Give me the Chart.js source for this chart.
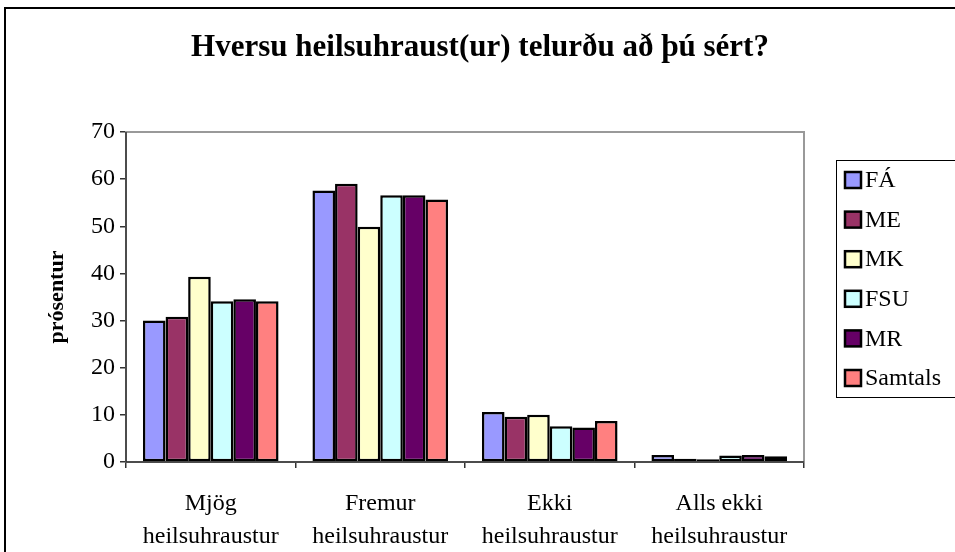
<!DOCTYPE html>
<html>
<head>
<meta charset="utf-8">
<script src="https://cdn.jsdelivr.net/npm/chart.js@4"></script>
<style>
  html, body { margin: 0; padding: 0; background: #fff; }
  #wrap { width: 955px; height: 552px; position: relative; }
</style>
</head>
<body>
<div id="wrap"><canvas id="healthChart" width="955" height="552"></canvas></div>
<script>
// gögn lesin af myndinni
const categories = [['Mjög', 'heilsuhraustur'], ['Fremur', 'heilsuhraustur'], ['Ekki', 'heilsuhraustur'], ['Alls ekki', 'heilsuhraustur']];
const seriesNames = ['FÁ', 'ME', 'MK', 'FSU', 'MR', 'Samtals'];
const valuesFA = [30.0, 57.6, 10.6, 1.5];
const valuesME = [30.8, 59.0, 9.6, 0.7];
const valuesMK = [39.3, 49.9, 10.0, 0.6];
const valuesFSU = [34.1, 56.6, 7.6, 1.4];
const valuesMR = [34.5, 56.6, 7.3, 1.5];
const valuesSamtals = [34.1, 55.7, 8.7, 1.2];
const yTicks = [0, 10, 20, 30, 40, 50, 60, 70];

const seriesValues = [valuesFA, valuesME, valuesMK, valuesFSU, valuesMR, valuesSamtals];
const seriesColors = ['#9999FF', '#993366', '#FFFFCC', '#CCFFFF', '#660066', '#FF8080'];
const serif = "'Liberation Serif', 'Times New Roman', serif";

// ramminn, titillinn og skýringin teiknuð sér
const framePlugin = {
  id: 'framePlugin',
  beforeDraw(chart) {
    const ctx = chart.ctx;
    ctx.save();
    ctx.fillStyle = '#fff';
    ctx.fillRect(0, 0, chart.width, chart.height);
    ctx.strokeStyle = '#000';
    ctx.lineWidth = 2;
    ctx.strokeRect(5, 8, chart.width + 20, chart.height + 20);
    // titill
    ctx.fillStyle = '#000';
    ctx.font = 'bold 31px ' + serif;
    ctx.textAlign = 'center';
    ctx.textBaseline = 'middle';
    ctx.fillText('Hversu heilsuhraust(ur) telurðu að þú sért?', 480, 48);
    ctx.restore();
  },
  beforeDatasetsDraw(chart) {
    const a = chart.chartArea;
    const ctx = chart.ctx;
    ctx.save();
    ctx.strokeStyle = '#999';
    ctx.lineWidth = 2;
    ctx.strokeRect(a.left, a.top, a.right - a.left, a.bottom - a.top);
    ctx.strokeStyle = '#333';
    ctx.lineWidth = 1.5;
    ctx.beginPath();
    ctx.moveTo(a.left, a.top);
    ctx.lineTo(a.left, a.bottom);
    ctx.lineTo(a.right, a.bottom);
    ctx.stroke();
    ctx.restore();
  },
  afterDraw(chart) {
    const ctx = chart.ctx;
    ctx.save();
    ctx.strokeStyle = '#000';
    ctx.lineWidth = 1;
    ctx.strokeRect(836.5, 160.5, 140, 237);
    ctx.font = '24px ' + serif;
    ctx.textBaseline = 'middle';
    ctx.textAlign = 'left';
    chart.data.datasets.forEach((ds, i) => {
      const y = 180 + i * 39.6;
      ctx.fillStyle = ds.backgroundColor;
      ctx.fillRect(845, y - 8, 16, 16);
      ctx.lineWidth = 2.5;
      ctx.strokeStyle = '#000';
      ctx.strokeRect(845, y - 8, 16, 16);
      ctx.fillStyle = '#000';
      ctx.fillText(ds.label, 865, y + 1);
    });
    ctx.restore();
  }
};

new Chart(document.getElementById('healthChart'), {
  type: 'bar',
  data: {
    labels: categories,
    datasets: seriesNames.map((name, i) => ({
      label: name,
      data: seriesValues[i],
      backgroundColor: seriesColors[i],
      borderColor: '#000',
      borderWidth: 2.5,
      borderSkipped: false,
      categoryPercentage: 0.8,
      barPercentage: 1.0
    }))
  },
  options: {
    responsive: false,
    animation: false,
    events: [],
    layout: { padding: { top: 132, left: 0, right: 151, bottom: 0 } },
    plugins: {
      legend: { display: false },
      title: { display: false },
      tooltip: { enabled: false }
    },
    scales: {
      x: {
        afterFit(scale) { scale.height = 90; },
        grid: { display: true, offset: true, drawOnChartArea: false, drawTicks: true, tickLength: 6, color: '#333', lineWidth: 1.5 },
        border: { display: false },
        ticks: { color: '#000', font: { family: serif, size: 24, lineHeight: 1.35 }, padding: 20, maxRotation: 0, autoSkip: false }
      },
      y: {
        min: 0,
        max: 70,
        afterFit(scale) { scale.width = 126; },
        afterBuildTicks(scale) { scale.ticks = yTicks.map(v => ({ value: v })); },
        grid: { display: true, drawOnChartArea: false, drawTicks: true, tickLength: 6, color: '#333', lineWidth: 1.5 },
        border: { display: false },
        ticks: { color: '#000', font: { family: serif, size: 24 }, padding: 5 },
        title: { display: true, text: 'prósentur', color: '#000', font: { family: serif, size: 22, weight: 'bold' }, padding: { top: 44, bottom: 0 } }
      }
    }
  },
  plugins: [framePlugin]
});
</script>
</body>
</html>
